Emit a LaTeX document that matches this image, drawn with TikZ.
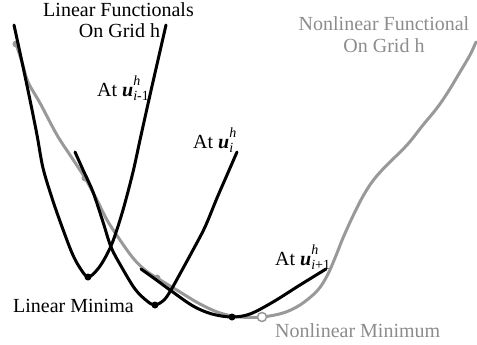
\documentclass[tikz,border=0pt]{standalone}
\usepackage{fontspec}
\setmainfont{Liberation Serif}
\definecolor{nlgray}{HTML}{999999}
\definecolor{nltext}{HTML}{8C8C8C}
\newcommand\ulbl[1]{\textbf{\textit{u}}\rlap{\raisebox{0.55em}{\fontsize{14}{14}\selectfont\itshape h}}\raisebox{-0.2em}{\fontsize{14}{14}\selectfont #1}}
\tikzset{
  nonlin/.style={draw=nlgray, line width=3pt, line cap=round, line join=round},
  lin/.style={draw=black, line width=3pt, line cap=round, line join=round},
  mindot/.style={circle, fill=black, inner sep=0pt, minimum size=7pt},
  graydot/.style={circle, fill=nlgray, inner sep=0pt, minimum size=7pt},
  opendot/.style={circle, draw=nlgray, fill=white, line width=1.5pt, inner sep=0pt, minimum size=9pt},
  lbl/.style={inner sep=0pt, font=\fontsize{20}{22}\selectfont},
  glbl/.style={lbl, text=nltext}
}
\begin{document}
\begin{tikzpicture}[x=1pt,y=-1pt]
\useasboundingbox (0,0) rectangle (477,345);
% nonlinear functional
\draw[nonlin] plot[smooth, tension=0.55] coordinates {(16,44) (22,62) (28,82) (40,103) (57,135) (72,158) (85,178) (97,200) (107,220) (120,240) (133,258) (145,270) (157,278) (180,292) (200,304) (220,313) (240,317) (262,317) (283,313) (300,305) (317,291) (327,276) (335,258) (343,238) (352,218) (362,198) (372,182) (384,168) (407,145) (423,125) (437,108) (448,92) (460,72) (470,55) (476,42)};
\node[graydot] (g1) at (16,44) {};
\node[graydot] (g2) at (85,178) {};
\node[graydot] (g3) at (157,278) {};
% linear functionals
\draw[lin] plot[smooth, tension=0.55] coordinates {(14,25) (22,62) (30,100) (37,135) (43,168) (52,198) (61,224) (72,253) (80,268) (88,277) (97,270) (105,258) (113,241) (123,210) (133,172) (140,140) (150,95) (158,60) (166,25)};
\draw[lin] plot[smooth, tension=0.55] coordinates {(75,152) (84,172) (93,192) (103,222) (111,247) (121,266) (135,289) (147,301) (155,305) (164,300) (171,290) (181,272) (193,250) (205,227) (217,198) (227,175) (237,152)};
\draw[lin] plot[smooth, tension=0.55] coordinates {(141,269) (155,279) (170,290) (193,306) (212,314) (232,317) (250,314) (273,302) (300,285) (326,269)};
\node[mindot] (m1) at (88,277) {};
\node[mindot] (m2) at (155,305) {};
\node[mindot] (m3) at (232,317) {};
\node[opendot] (nm) at (262,317) {};
% labels
\node[lbl, anchor=base] (t1) at (118.5,17) {Linear Functionals};
\node[lbl, anchor=base] (t2) at (119.5,38) {On Grid h};
\node[glbl, anchor=base] (t3) at (384,31) {Nonlinear Functional};
\node[glbl, anchor=base] (t4) at (384,53) {On Grid h};
\node[lbl, anchor=base west] (a1) at (97,97) {At \ulbl{\itshape i\upshape -1}};
\node[lbl, anchor=base west] (a2) at (193,148) {At \ulbl{\itshape i}};
\node[lbl, anchor=base west] (a3) at (275,265) {At \ulbl{\itshape i\upshape +1}};
\node[lbl, anchor=base west] (lm) at (13,312) {Linear Minima};
\node[glbl, anchor=base west] (nlm) at (275,337) {Nonlinear Minimum};
\end{tikzpicture}
\end{document}
